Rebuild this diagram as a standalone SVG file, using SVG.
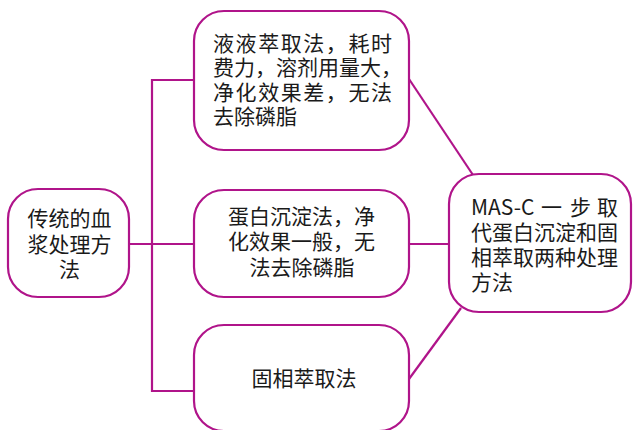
<svg xmlns="http://www.w3.org/2000/svg" width="633" height="430" viewBox="0 0 633 430">
<style>
.box{fill:#ffffff;stroke:#B0148A;stroke-width:2.2}
.ln{fill:none;stroke:#B0148A;stroke-width:2.2}
.t{font-family:"Noto Sans CJK SC","Noto Sans",sans-serif;font-size:21px;fill:#1a1a1a}
.c{text-anchor:middle}
</style>
<rect width="633" height="430" fill="#ffffff"/>
<g id="connectors">
<polyline class="ln" points="194,80 152,80 152,391 194,391"/>
<line class="ln" x1="129" y1="244" x2="194" y2="244"/>
<line class="ln" x1="409" y1="244" x2="449" y2="244"/>
<line class="ln" x1="409" y1="79" x2="473" y2="175"/>
<line class="ln" x1="409" y1="379" x2="461" y2="308"/>
</g>
<g id="left">
<rect class="box" x="8" y="189" width="121" height="108" rx="30"/>
<text class="t c" x="69.5" y="226">传统的血</text>
<text class="t c" x="69.5" y="251.5">浆处理方</text>
<text class="t c" x="69.5" y="277">法</text>
</g>
<g id="n1">
<rect class="box" x="194" y="11" width="215" height="139" rx="30"/>
<text class="t" x="213" y="50.5" textLength="179" lengthAdjust="spacing">液液萃取法，耗时</text>
<text class="t" x="213" y="75">费力，溶剂用量大，</text>
<text class="t" x="213" y="99.5" textLength="179" lengthAdjust="spacing">净化效果差，无法</text>
<text class="t" x="213" y="124">去除磷脂</text>
</g>
<g id="n2">
<rect class="box" x="194" y="190" width="215" height="107" rx="30"/>
<text class="t c" x="301.5" y="223.5">蛋白沉淀法，净</text>
<text class="t c" x="301.5" y="249">化效果一般，无</text>
<text class="t c" x="302" y="274.5">法去除磷脂</text>
</g>
<g id="n3">
<rect class="box" x="194" y="325" width="215" height="106" rx="30"/>
<text class="t c" x="304" y="386">固相萃取法</text>
</g>
<g id="right">
<rect class="box" x="449" y="174" width="182" height="138" rx="30"/>
<text class="t" y="215"><tspan x="471">MAS-C</tspan><tspan x="541">一</tspan><tspan x="570">步</tspan><tspan x="597">取</tspan></text>
<text class="t" x="471" y="240">代蛋白沉淀和固</text>
<text class="t" x="471" y="265">相萃取两种处理</text>
<text class="t" x="471" y="290">方法</text>
</g>
</svg>
